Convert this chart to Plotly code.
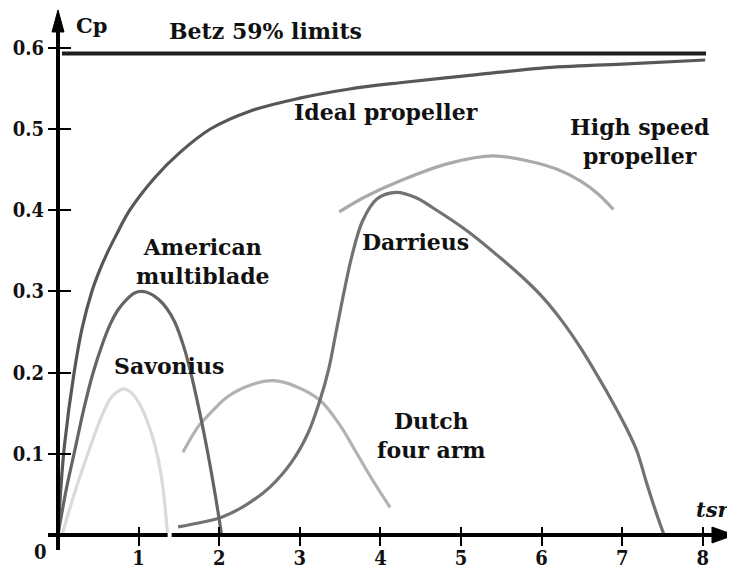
import plotly.graph_objects as go

# ---- data ----
betz_tsr = [0.05, 8.04]
betz_cp = [0.593, 0.593]

ideal_tsr = [0, 0.03, 0.08, 0.20, 0.30, 0.42, 0.50, 0.60, 0.72, 0.89, 1.20, 1.50, 1.89, 2.38, 3.0, 3.6, 4.24, 5.2, 6.0, 7.0, 8.03]
ideal_cp = [0, 0.05, 0.11, 0.20, 0.255, 0.30, 0.322, 0.345, 0.369, 0.40, 0.44, 0.47, 0.50, 0.522, 0.538, 0.549, 0.557, 0.567, 0.575, 0.580, 0.585]

hs_tsr = [3.49, 3.80, 4.24, 4.86, 5.40, 5.86, 6.20, 6.48, 6.70, 6.89]
hs_cp = [0.398, 0.416, 0.436, 0.458, 0.467, 0.460, 0.450, 0.436, 0.420, 0.401]

darr_tsr = [1.49, 1.80, 2.03, 2.30, 2.63, 2.90, 3.10, 3.25, 3.36, 3.45, 3.55, 3.65, 3.78, 3.96, 4.20,
            4.45, 4.65, 5.07, 5.48, 5.80, 6.02, 6.25, 6.48, 6.70, 6.89, 7.05, 7.18, 7.30, 7.43, 7.52]
darr_cp = [0.010, 0.016, 0.022, 0.035, 0.059, 0.090, 0.125, 0.166, 0.205, 0.250, 0.300, 0.345, 0.387, 0.414, 0.422,
           0.415, 0.403, 0.375, 0.342, 0.314, 0.292, 0.264, 0.231, 0.195, 0.162, 0.132, 0.104, 0.065, 0.025, 0.0]

amer_tsr = [0, 0.10, 0.21, 0.32, 0.43, 0.55, 0.65, 0.75, 0.85, 0.95, 1.04, 1.15, 1.25, 1.35, 1.45, 1.56, 1.64, 1.76, 1.86, 1.95, 2.03]
amer_cp = [0, 0.055, 0.105, 0.155, 0.198, 0.235, 0.260, 0.278, 0.290, 0.298, 0.300, 0.297, 0.290, 0.279, 0.262, 0.232, 0.203, 0.150, 0.100, 0.050, 0.0]

savo_tsr = [0.05, 0.20, 0.37, 0.52, 0.65, 0.73, 0.81, 0.89, 0.97, 1.04, 1.10, 1.17, 1.24, 1.30, 1.36]
savo_cp = [0.0, 0.05, 0.10, 0.141, 0.168, 0.176, 0.180, 0.177, 0.168, 0.156, 0.142, 0.122, 0.095, 0.060, 0.0]

dutch_tsr = [1.55, 1.75, 1.89, 2.10, 2.40, 2.67, 2.95, 3.25, 3.50, 3.71, 3.92, 4.12]
dutch_cp = [0.102, 0.135, 0.150, 0.170, 0.185, 0.190, 0.183, 0.166, 0.135, 0.100, 0.065, 0.034]

x_tick_vals = [1, 2, 3, 4, 5, 6, 7, 8]
x_tick_text = ["1", "2", "3", "4", "5", "6", "7", "8"]
y_tick_vals = [0.1, 0.2, 0.3, 0.4, 0.5, 0.6]
y_tick_text = ["0.1", "0.2", "0.3", "0.4", "0.5", "0.6"]

label_text = ["Cp", "Betz 59% limits", "Ideal propeller", "High speed<br>propeller",
              "Darrieus", "American<br>multiblade", "Savonius", "Dutch<br>four arm", "tsr", "0"]
label_tsr = [0.42, 2.58, 4.07, 7.22, 4.44, 1.80, 1.38, 4.64, 8.13, -0.22]
label_cp = [0.628, 0.621, 0.521, 0.485, 0.361, 0.337, 0.208, 0.122, 0.032, -0.021]

# ---- figure ----
# page body has an 8px margin; the figure fills the rest of the 735x571 window
W, H = 727, 563
X_RANGE = [-50 / 80.6, 677 / 80.6]
Y_RANGE = [-36 / 812, 527 / 812]

fig = go.Figure()

def curve(x, y, color, width=3.2):
    fig.add_trace(go.Scatter(x=x, y=y, mode="lines",
                             line=dict(color=color, width=width, shape="spline", smoothing=1.0),
                             hoverinfo="skip", showlegend=False, cliponaxis=False))

curve(savo_tsr, savo_cp, "#dadada")
curve(dutch_tsr, dutch_cp, "#b2b2b2")
curve(hs_tsr, hs_cp, "#aaaaaa")
curve(darr_tsr, darr_cp, "#727272")
curve(amer_tsr, amer_cp, "#656565")
curve(ideal_tsr, ideal_cp, "#575757")
fig.add_trace(go.Scatter(x=betz_tsr, y=betz_cp, mode="lines",
                         line=dict(color="#1e1e1e", width=4),
                         hoverinfo="skip", showlegend=False))

# dummy trace so the overlay axes (outer tick halves) are drawn
fig.add_trace(go.Scatter(x=[None], y=[None], xaxis="x2", yaxis="y2", showlegend=False))

SERIF_TICK = "DejaVu Serif Condensed, DejaVu Serif, serif"
label_font = dict(family="DejaVu Serif", size=22, color="#111111", weight="bold")
for t, xx, yy in zip(label_text, label_tsr, label_cp):
    f = dict(label_font)
    if t == "tsr":
        f["style"] = "italic"
        f["size"] = 21
    if t == "Cp":
        f["size"] = 21
    if t == "0":
        f = dict(family=SERIF_TICK, size=20, color="#111111", weight="bold")
    fig.add_annotation(x=xx, y=yy, text=t, showarrow=False, xanchor="center",
                       yanchor="middle", font=f, align="center")

# axis lines and arrowheads
shapes = [
    dict(type="line", x0=0, x1=0, y0=-0.0185, y1=0.625, line=dict(color="black", width=4)),
    dict(type="line", x0=-0.124, x1=8.30, y0=0, y1=0, line=dict(color="black", width=4)),
    dict(type="path", path="M 0,0.6466 L -0.0744,0.6195 L 0.0744,0.6195 Z",
         fillcolor="black", line=dict(color="black", width=1)),
    dict(type="path", path="M 8.39,0 L 8.114,0.00985 L 8.114,-0.00985 Z",
         fillcolor="black", line=dict(color="black", width=1)),
    dict(type="line", x0=1.36, x1=1.41, y0=0, y1=0, line=dict(color="white", width=5)),
]
for s in shapes:
    s.update(xref="x", yref="y", layer="above")
    fig.add_shape(**s)

tick_font = dict(family=SERIF_TICK, size=20, color="#111111", weight="bold")
xpos = 36 / H
ypos = 50 / W

fig.update_layout(
    width=W, height=H,
    margin=dict(l=0, r=0, t=0, b=0),
    paper_bgcolor="white", plot_bgcolor="white",
    showlegend=False,
    xaxis=dict(range=X_RANGE, anchor="free", position=xpos, showgrid=False, zeroline=False,
               showline=False, ticks="inside", ticklen=8, tickwidth=2, tickcolor="black",
               ticklabelstandoff=9,
               tickmode="array", tickvals=x_tick_vals, ticktext=x_tick_text, tickfont=tick_font),
    yaxis=dict(range=Y_RANGE, anchor="free", position=ypos, showgrid=False, zeroline=False,
               showline=False, ticks="outside", ticklen=10, tickwidth=2, tickcolor="black",
               tickmode="array", tickvals=y_tick_vals, ticktext=y_tick_text, tickfont=tick_font),
    xaxis2=dict(range=X_RANGE, overlaying="x", anchor="free", position=xpos, showgrid=False,
                zeroline=False, showline=False, ticks="outside", ticklen=10, tickwidth=2,
                tickcolor="black", tickmode="array", tickvals=x_tick_vals, showticklabels=False),
    yaxis2=dict(range=Y_RANGE, overlaying="y", anchor="free", position=ypos, side="left",
                showgrid=False, zeroline=False, showline=False, ticks="inside", ticklen=12,
                tickwidth=2, tickcolor="black", tickmode="array", tickvals=y_tick_vals,
                showticklabels=False),
)

fig.write_html("out.html")
